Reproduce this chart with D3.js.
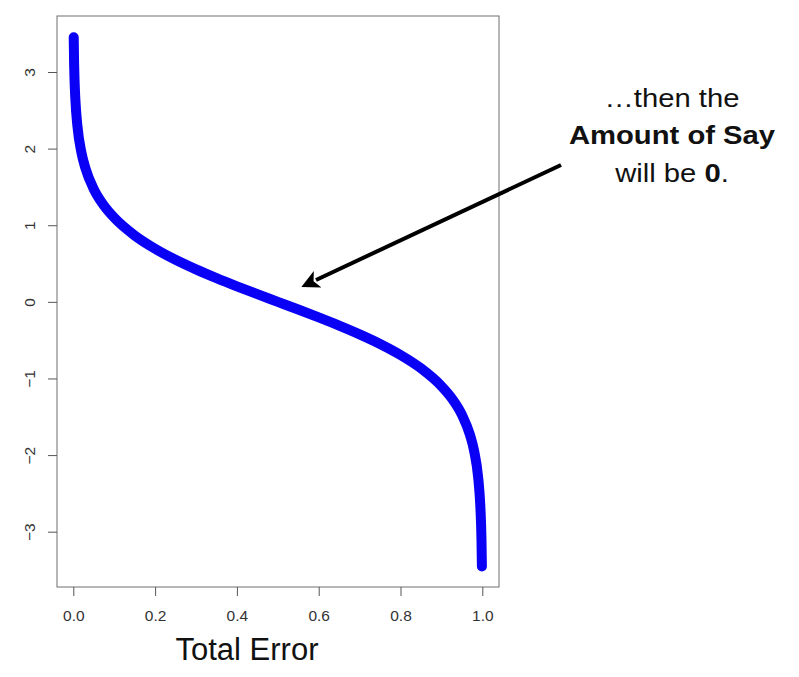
<!DOCTYPE html>
<html><head><meta charset="utf-8">
<script src="https://cdn.jsdelivr.net/npm/d3@7"></script>
<style>html,body{margin:0;padding:0;background:#fff;}svg{display:block;}</style>
</head><body>
<svg id="chart" width="799" height="677"></svg>
<script>
// Total error (x) and amount of say (y)
const totalError = [0.001,0.002,0.003,0.005,0.01,0.02,0.03,0.05,0.075,0.1,0.15,0.2,0.25,0.3,0.35,0.4,0.45,0.5,0.55,0.6,0.65,0.7,0.75,0.8,0.85,0.9,0.925,0.95,0.97,0.98,0.99,0.995,0.997,0.998,0.999];
const amountOfSay = [3.453,3.106,2.903,2.647,2.298,1.946,1.738,1.472,1.256,1.099,0.867,0.693,0.549,0.424,0.310,0.203,0.100,0,-0.100,-0.203,-0.310,-0.424,-0.549,-0.693,-0.867,-1.099,-1.256,-1.472,-1.738,-1.946,-2.298,-2.647,-2.903,-3.106,-3.453];
const xTicks = [0,0.2,0.4,0.6,0.8,1.0];
const xTickLabels = ["0.0","0.2","0.4","0.6","0.8","1.0"];
const yTicks = [-3,-2,-1,0,1,2,3];
const yTickLabels = ["\u22123","\u22122","\u22121","0","1","2","3"];
const xTitle = "Total Error";
const noteLines = ["…then the", "Amount of Say", "will be 0."];

const svg = d3.select("#chart");
const box = {left:57, right:499, top:16, bottom:587};
const x = d3.scaleLinear().domain([0,1]).range([73.3,482.3]);
const y = d3.scaleLinear().domain([-3,3]).range([531.7,72]);
const FONT = "Liberation Sans, Arial, Helvetica, sans-serif";

// plot box
svg.append("rect").attr("x",box.left).attr("y",box.top)
  .attr("width",box.right-box.left).attr("height",box.bottom-box.top)
  .attr("fill","none").attr("stroke","#6e6e6e").attr("stroke-width",1);

// x axis
const xAxis = d3.axisBottom(x).tickValues(xTicks).tickSize(9).tickPadding(14)
  .tickFormat((d,i)=>xTickLabels[i]);
const gx = svg.append("g").attr("transform",`translate(0,${box.bottom})`).call(xAxis)
  .attr("font-size",15.5).attr("font-family",FONT);
gx.select(".domain").remove();
gx.selectAll("line").attr("stroke","#555");
gx.selectAll("text").attr("fill","#333");

// y axis
const yAxis = d3.axisLeft(y).tickValues(yTicks).tickSize(9).tickPadding(0)
  .tickFormat((d,i)=>yTickLabels[i]);
const gy = svg.append("g").attr("transform",`translate(${box.left},0)`).call(yAxis)
  .attr("font-size",15.5).attr("font-family",FONT);
gy.select(".domain").remove();
gy.selectAll("line").attr("stroke","#555");
gy.selectAll("text")
  .attr("fill","#333")
  .attr("x",null)
  .attr("text-anchor","middle")
  .attr("transform","translate(-27,0) rotate(-90)")
  .attr("dy","0.35em");

// x title
svg.append("text").attr("x",247).attr("y",660).attr("text-anchor","middle")
  .attr("font-family",FONT).attr("font-size",31).attr("fill","#111")
  .text(xTitle);

// curve
const pts = totalError.map((e,i)=>[e,amountOfSay[i]]);
const line = d3.line().x(d=>x(d[0])).y(d=>y(d[1])).curve(d3.curveMonotoneX);
svg.append("path").datum(pts).attr("d",line)
  .attr("fill","none").attr("stroke","#0a00f5").attr("stroke-width",10)
  .attr("stroke-linecap","round").attr("stroke-linejoin","round");

// annotation arrow
const defs = svg.append("defs");
defs.append("marker").attr("id","ah").attr("viewBox","0 0 10 10").attr("refX",1).attr("refY",5)
  .attr("markerWidth",5.5).attr("markerHeight",4.5).attr("orient","auto")
  .append("path").attr("d","M0,0 L10,5 L0,10 L2.5,5 Z").attr("fill","#000");
svg.append("line").attr("x1",561).attr("y1",165).attr("x2",316).attr("y2",280)
  .attr("stroke","#000").attr("stroke-width",4).attr("marker-end","url(#ah)");

// annotation text
const ng = svg.append("g").attr("transform","translate(672,0) scale(1.17,1)");
const note = ng.append("text").attr("text-anchor","middle")
  .attr("font-family",FONT).attr("font-size",25).attr("fill","#111");
note.append("tspan").attr("x",0).attr("y",107).text(noteLines[0]);
note.append("tspan").attr("x",0).attr("y",144).attr("font-weight","bold").text(noteLines[1]);
const l3 = note.append("tspan").attr("x",0).attr("y",182);
l3.append("tspan").text("will be ");
l3.append("tspan").attr("font-weight","bold").text("0");
l3.append("tspan").text(".");
</script>
</body></html>
